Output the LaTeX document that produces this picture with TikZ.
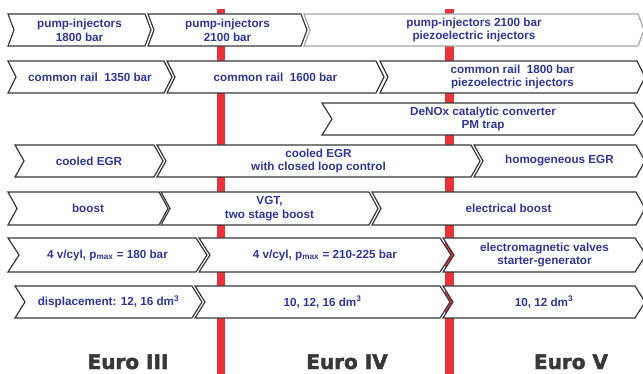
\documentclass[tikz,border=0pt]{standalone}
\usepackage{fontspec}
\setmainfont{Liberation Sans}
\newfontfamily\eurofont[BoldFeatures={FakeBold=2.2}]{DejaVu Sans}
\definecolor{txtblue}{HTML}{2F3699}
\definecolor{rimgray}{HTML}{383838}
\definecolor{barred}{HTML}{E6343A}
\tikzset{
  chevline/.style={draw=rimgray, line width=1.2pt, fill=white, line join=miter},
  chevtext/.style={text=txtblue, font=\bfseries\fontsize{11.7}{13.7}\selectfont, align=center, inner sep=0pt},
  eurotext/.style={text=rimgray, font=\eurofont\bfseries\fontsize{20}{22}\selectfont, anchor=base, inner sep=0pt}
}
% chevron: [style] name, left x, right x, top y, bottom y, depth, text
\newcommand{\chev}[8][]{%
  \draw[chevline,#1] (#3,#5) -- (#4,#5) -- ({#4+#7},{(#5+#6)/2}) -- (#4,#6) -- (#3,#6) -- ({#3+#7},{(#5+#6)/2}) -- cycle;
  \node[chevtext] (#2) at ({(#3+#4+#7)/2},{(#5+#6)/2}) {#8};}
\begin{document}
\begin{tikzpicture}[x=1pt, y=-1pt, line join=round, line cap=round]
\useasboundingbox (0,0) rectangle (643,374);
% red boundaries between the stages
\fill[barred] (217,9) rectangle (225,374);
\fill[barred] (445,9) rectangle (454,374);
% injection
\chev{pumpA}{8}{145}{14}{46}{6}{pump-injectors\\1800 bar}
\chev{pumpB}{148}{301}{14}{46}{6}{pump-injectors\\2100 bar}
\chev[draw=gray!70]{pumpC}{304}{638}{14}{46}{6}{pump-injectors 2100 bar\\piezoelectric injectors}
\chev{railA}{8}{164}{61}{93}{8}{common rail~ 1350 bar}
\chev{railB}{167}{376}{61}{93}{8}{common rail~ 1600 bar}
\chev{railC}{380}{637}{61}{93}{8}{common rail~ 1800 bar\\piezoelectric injectors}
% after-treatment
\chev{denox}{322}{634}{103}{135}{10}{DeNOx catalytic converter\\PM trap}
% EGR
\chev{egrA}{15}{154}{145}{177}{9}{cooled EGR}
\chev{egrB}{157}{471}{145}{177}{9}{cooled EGR\\with closed loop control}
\chev{egrC}{474}{636}{145}{177}{9}{homogeneous EGR}
% boost
\chev{boostA}{8}{159}{192}{225}{9}{boost}
\chev{boostB}{161}{369}{192}{225}{9}{VGT,\\two stage boost}
\chev{boostC}{372}{636}{192}{225}{9}{electrical boost}
% valves
\chev{valveA}{8}{196}{238}{272}{11}{4 v/cyl, p\textsubscript{max} = 180 bar}
\chev{valveB}{199}{440}{238}{272}{11}{4 v/cyl, p\textsubscript{max} = 210-225 bar}
\chev{valveC}{443}{635}{238}{272}{11}{electromagnetic valves\\starter-generator}
% displacement
\chev{dispA}{15}{192}{286}{318}{10}{displacement: 12, 16 dm\textsuperscript{3}}
\chev{dispB}{195}{440}{286}{318}{10}{10, 12, 16 dm\textsuperscript{3}}
\chev{dispC}{443}{635}{286}{318}{10}{10, 12 dm\textsuperscript{3}}
% stages
\node[eurotext] (euro3) at (128,369) {Euro III};
\node[eurotext] (euro4) at (347,369) {Euro IV};
\node[eurotext] (euro5) at (571,369) {Euro V};
\end{tikzpicture}
\end{document}
